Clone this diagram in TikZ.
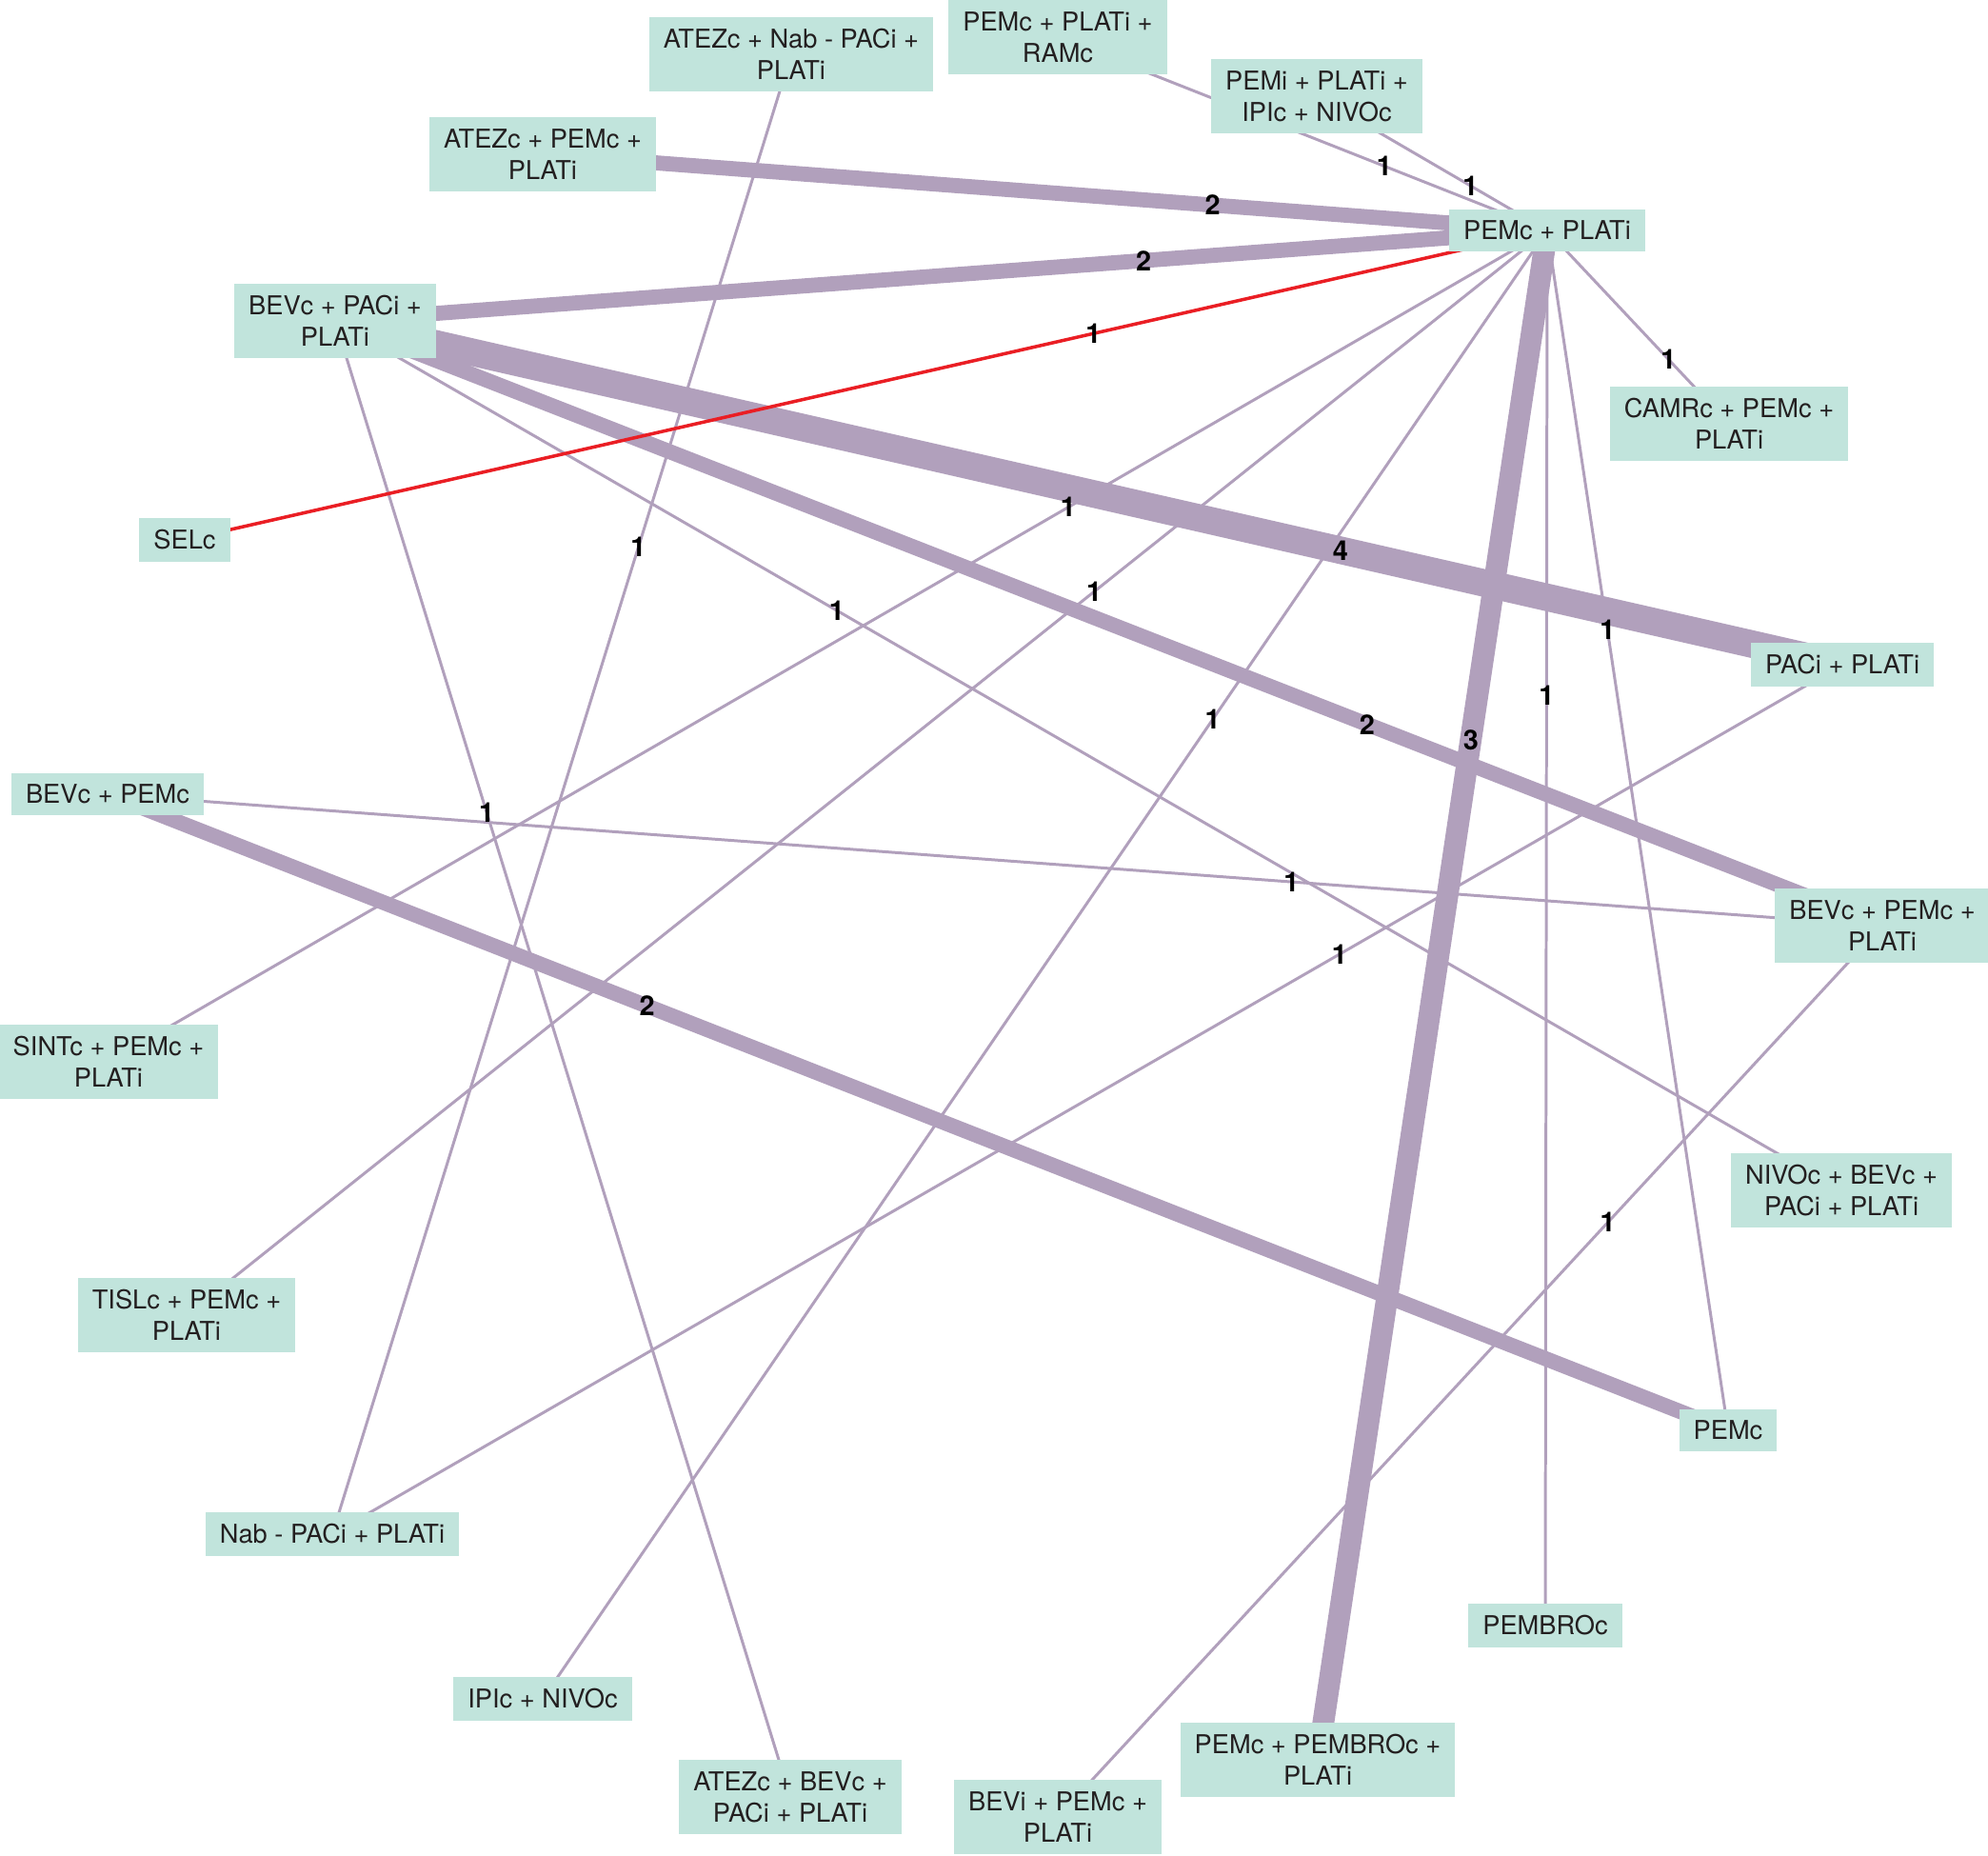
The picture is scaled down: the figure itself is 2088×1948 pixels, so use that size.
\documentclass[tikz,border=0pt]{standalone}
\usepackage{fontspec}
\setmainfont{TeX Gyre Heros}
\usepackage{tikz}
\usetikzlibrary{calc}
\definecolor{boxfill}{RGB}{193,228,220}
\definecolor{linkcol}{RGB}{177,160,188}
\definecolor{selred}{RGB}{234,30,36}
\definecolor{inkcol}{RGB}{35,31,32}
\pgfdeclarelayer{back}
\pgfsetlayers{back,main}
\tikzstyle{treat}=[fill=boxfill,text=inkcol,align=center,inner xsep=4.3pt,inner ysep=3.5pt,font=\fontsize{7.75}{9.4}\selectfont]
\tikzstyle{count}=[text=black,inner sep=0pt,font=\fontsize{8.2}{9}\selectfont\bfseries]

\begin{document}
\begin{tikzpicture}[x=0.01cm,y=-0.01cm]
\useasboundingbox (0,0) rectangle (2088,1948);
\node [treat] (pp) at (1625,242) {PEMc + PLATi};
\node [treat] (atnab) at (831,57) {ATEZc + Nab - PACi +\\PLATi};
\node [treat] (ram) at (1111,39) {PEMc + PLATi +\\RAMc};
\node [treat] (pemi) at (1383,101) {PEMi + PLATi +\\IPIc + NIVOc};
\node [treat] (atpem) at (570,162) {ATEZc + PEMc +\\PLATi};
\node [treat] (bpp) at (352,337) {BEVc + PACi +\\PLATi};
\node [treat] (camr) at (1816,445) {CAMRc + PEMc +\\PLATi};
\node [treat] (sel) at (194,567) {SELc};
\node [treat] (pacp) at (1935,698) {PACi + PLATi};
\node [treat] (bp) at (113,834) {BEVc + PEMc};
\node [treat] (bpemp) at (1977,972) {BEVc + PEMc +\\PLATi};
\node [treat] (sint) at (114,1115) {SINTc + PEMc +\\PLATi};
\node [treat] (nivo) at (1934,1250) {NIVOc + BEVc +\\PACi + PLATi};
\node [treat] (tisl) at (196,1381) {TISLc + PEMc +\\PLATi};
\node [treat] (pem) at (1815,1502) {PEMc};
\node [treat] (nab) at (349,1611) {Nab - PACi + PLATi};
\node [treat] (pembro) at (1623,1707) {PEMBROc};
\node [treat] (ipi) at (570,1784) {IPIc + NIVOc};
\node [treat] (pempem) at (1384,1848) {PEMc + PEMBROc +\\PLATi};
\node [treat] (atbev) at (830,1887) {ATEZc + BEVc +\\PACi + PLATi};
\node [treat] (bevi) at (1111,1908) {BEVi + PEMc +\\PLATi};
\foreach \s/\t/\w/\c/\n in {ram/pp/0.85pt/linkcol/1, pemi/pp/0.85pt/linkcol/1,
  pp/camr/0.85pt/linkcol/1, sint/pp/0.85pt/linkcol/1, tisl/pp/0.85pt/linkcol/1,
  ipi/pp/0.85pt/linkcol/1, pembro/pp/0.85pt/linkcol/1, pem/pp/0.85pt/linkcol/1,
  nivo/bpp/0.85pt/linkcol/1, atbev/bpp/0.85pt/linkcol/1, nab/atnab/0.85pt/linkcol/1,
  bp/bpemp/0.85pt/linkcol/1, nab/pacp/0.85pt/linkcol/1, bevi/bpemp/0.85pt/linkcol/1,
  atpem/pp/4.5pt/linkcol/2, bpp/pp/4.5pt/linkcol/2, bpp/bpemp/4.5pt/linkcol/2,
  pem/bp/4.5pt/linkcol/2, pempem/pp/6.5pt/linkcol/3, bpp/pacp/8.2pt/linkcol/4,
  sel/pp/1pt/selred/1}{
  \begin{pgfonlayer}{back}
    \draw [\c,line width=\w] (\s.center) -- (\t.center);
  \end{pgfonlayer}
  \node [count] at ($(\s)!.667!(\t)$) {\n};
}
\end{tikzpicture}
\end{document}
